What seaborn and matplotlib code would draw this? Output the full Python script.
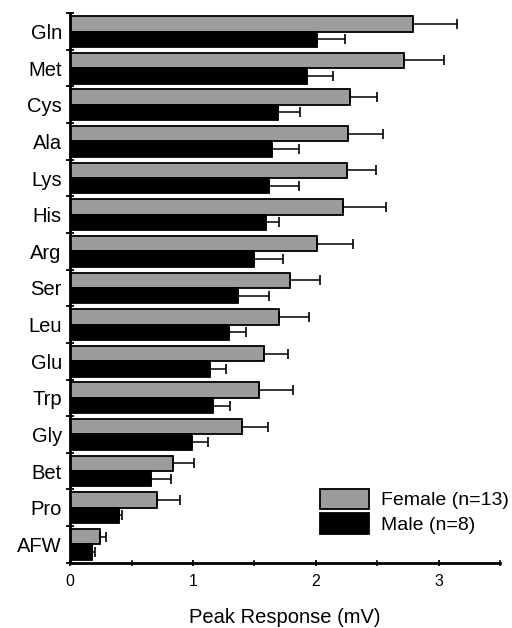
import matplotlib
matplotlib.use("Agg")
import matplotlib.pyplot as plt
import seaborn as sns
import pandas as pd
import numpy as np

amino = ["Gln", "Met", "Cys", "Ala", "Lys", "His", "Arg", "Ser", "Leu", "Glu",
         "Trp", "Gly", "Bet", "Pro", "AFW"]
female_mean = [2.79, 2.72, 2.28, 2.26, 2.25, 2.22, 2.01, 1.79, 1.70, 1.58,
               1.54, 1.40, 0.84, 0.71, 0.24]
female_err = [0.36, 0.32, 0.22, 0.29, 0.24, 0.35, 0.29, 0.24, 0.24, 0.19,
              0.27, 0.21, 0.17, 0.18, 0.05]
male_mean = [2.01, 1.93, 1.69, 1.64, 1.62, 1.59, 1.50, 1.37, 1.29, 1.14,
             1.16, 0.99, 0.66, 0.40, 0.18]
male_err = [0.23, 0.21, 0.18, 0.22, 0.24, 0.11, 0.23, 0.25, 0.14, 0.13,
            0.14, 0.13, 0.16, 0.02, 0.02]
groups = ["Female (n=13)", "Male (n=8)"]
xticks = [0, 1, 2, 3]

df = pd.DataFrame({
    "Amino": amino * 2,
    "Response": female_mean + male_mean,
    "Group": [groups[0]] * len(amino) + [groups[1]] * len(amino),
})

sns.set_theme(style="ticks")
plt.rcParams["font.family"] = ["Liberation Sans", "DejaVu Sans"]
for k in ["text.color", "axes.labelcolor", "xtick.color", "ytick.color",
          "xtick.labelcolor", "ytick.labelcolor", "axes.edgecolor"]:
    plt.rcParams[k] = "black"

fig = plt.figure(figsize=(5.12, 6.28), dpi=100)
ax = fig.add_axes([0.137, 0.104, 0.84, 0.875])

sns.barplot(data=df, y="Amino", x="Response", hue="Group", order=amino,
            hue_order=groups, palette={groups[0]: "#9c9c9c", groups[1]: "black"},
            orient="h", width=0.84, errorbar=None, edgecolor="black",
            linewidth=1.3, saturation=1, ax=ax)

errs = [female_err, male_err]
for cont, err in zip(ax.containers, errs):
    ys = [b.get_y() + b.get_height() / 2 for b in cont]
    xs = [b.get_width() for b in cont]
    ax.errorbar(xs, ys, xerr=[np.zeros(len(err)), err], fmt="none",
                ecolor="black", elinewidth=1.1, capsize=3.5, capthick=1.2,
                zorder=3)

ax.set_xlim(0, 3.5)
ax.set_ylim(len(amino) - 0.5, -0.5)
ax.set_xticks(xticks)
ax.set_xticklabels([str(t) for t in xticks], fontsize=11.5)
ax.set_xticks([0.5, 1.5, 2.5, 3.5], minor=True)
ax.set_yticks(np.arange(-0.5, len(amino), 1.0), minor=True)
ax.tick_params(axis="y", which="major", length=0, labelsize=14.5, pad=6)
ax.tick_params(axis="y", which="minor", length=6, width=1.3, direction="inout")
ax.tick_params(axis="x", which="major", length=5, width=1.3, direction="inout", pad=6)
ax.tick_params(axis="x", which="minor", length=4, width=1.1, direction="inout")
ax.set_ylabel("")
ax.set_xlabel("Peak Response (mV)", fontsize=14.5, labelpad=13, color="black")

for s in ["top", "right"]:
    ax.spines[s].set_visible(False)
for s in ["left", "bottom"]:
    ax.spines[s].set_linewidth(2.0)
    ax.spines[s].set_color("black")

leg = ax.legend(loc="lower right", bbox_to_anchor=(1.06, 0.02), frameon=False,
                fontsize=14, handlelength=2.5, handleheight=1.25,
                handletextpad=0.6, labelspacing=0.2)
for h in leg.legend_handles:
    h.set_edgecolor("black")
for t in leg.get_texts():
    t.set_color("black")

fig.savefig("out.png", dpi=100)
